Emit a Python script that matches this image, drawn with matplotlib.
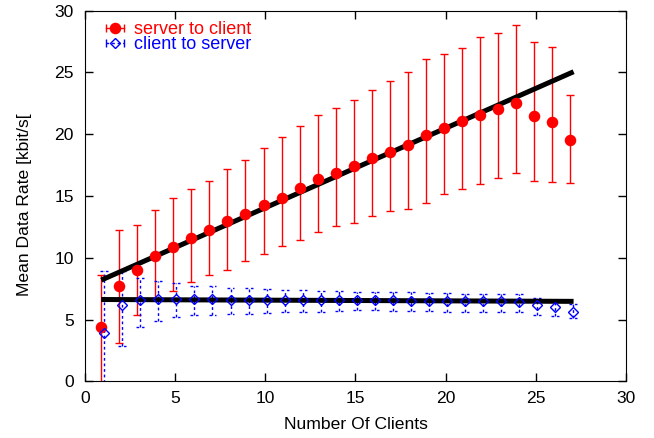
import matplotlib
matplotlib.use("Agg")
import matplotlib.pyplot as plt
import numpy as np
from matplotlib.lines import Line2D
from matplotlib.legend_handler import HandlerBase

# number of clients
clients = np.arange(1, 28)

# server to client: mean and error bar ends [kbit/s]
s2c = [4.4, 7.75, 9.05, 10.15, 10.9, 11.6, 12.25, 12.95, 13.55, 14.3, 14.8, 15.65, 16.35, 16.85,
       17.4, 18.1, 18.55, 19.1, 19.95, 20.5, 21.05, 21.55, 22.05, 22.5, 21.5, 21.0, 19.55]
s2c_hi = [8.65, 12.25, 12.65, 13.85, 14.85, 15.55, 16.25, 17.2, 17.95, 18.85, 19.75, 20.65, 21.55, 22.15,
          22.8, 23.6, 24.3, 25.0, 26.05, 26.5, 26.95, 27.85, 28.15, 28.8, 27.45, 27.05, 23.15]
s2c_lo = [-0.5, 3.1, 5.35, 6.75, 7.35, 8.05, 8.65, 9.05, 9.75, 10.35, 10.95, 11.45, 12.05, 12.55,
          12.85, 13.35, 13.75, 13.95, 14.45, 15.2, 15.55, 15.95, 16.45, 16.85, 16.25, 16.15, 16.05]

# client to server
c2s = [3.9, 6.15, 6.55, 6.65, 6.65, 6.65, 6.65, 6.6, 6.6, 6.6, 6.6, 6.6, 6.6, 6.6,
       6.55, 6.55, 6.55, 6.5, 6.5, 6.5, 6.5, 6.5, 6.5, 6.45, 6.2, 6.0, 5.65]
c2s_hi = [8.9, 8.9, 8.35, 8.1, 8.0, 7.7, 7.7, 7.6, 7.55, 7.45, 7.4, 7.4, 7.35, 7.3,
          7.25, 7.25, 7.2, 7.2, 7.15, 7.15, 7.1, 7.1, 7.1, 7.05, 6.75, 6.5, 6.25]
c2s_lo = [-0.5, 2.9, 4.4, 4.9, 5.25, 5.35, 5.4, 5.45, 5.45, 5.55, 5.6, 5.6, 5.65, 5.7,
          5.75, 5.75, 5.7, 5.7, 5.7, 5.65, 5.65, 5.65, 5.6, 5.6, 5.35, 5.3, 5.15]

# fitted lines (end points)
fit_x = [0.9, 27.1]
fit_s2c = [8.2, 25.05]
fit_c2s = [6.63, 6.48]

plt.rcParams['font.family'] = ['Liberation Sans', 'DejaVu Sans']
plt.rcParams['font.size'] = 12.6

class GpHandler(HandlerBase):
    # gnuplot style key: horizontal bar with end caps and the point in the middle
    def create_artists(self, legend, orig_handle, xdescent, ydescent, width, height, fontsize, trans):
        y = (height - ydescent) / 2
        x0, x1 = -xdescent, width - xdescent
        bar = Line2D([x0, x1], [y, y])
        bar.update_from(orig_handle)
        bar.set_marker('None')
        bar.set_transform(trans)
        caps = Line2D([x0, x1], [y, y], color=orig_handle.get_color(), ls='none',
                      marker='|', ms=6, mew=1, transform=trans)
        mk = Line2D([(x0 + x1) / 2], [y])
        mk.update_from(orig_handle)
        mk.set_linestyle('none')
        mk.set_transform(trans)
        return [bar, caps, mk]

fig = plt.figure(figsize=(6.54, 4.38), dpi=100)
ax = fig.add_axes([0.130, 0.129, 0.827, 0.847])

x_red = clients - 0.1
x_blue = clients + 0.07
s2c = np.array(s2c)
c2s = np.array(c2s)

ax.errorbar(x_red, s2c, yerr=[s2c - np.array(s2c_lo), np.array(s2c_hi) - s2c], fmt='none',
            ecolor='red', elinewidth=1, capsize=2.6, capthick=1, zorder=1.5)
eb = ax.errorbar(x_blue, c2s, yerr=[c2s - np.array(c2s_lo), np.array(c2s_hi) - c2s], fmt='none',
                 ecolor='blue', elinewidth=1, capsize=0, zorder=1.5)
eb[2][0].set_linestyle((0, (2, 2)))
ax.hlines(c2s_hi, x_blue - 0.22, x_blue + 0.22, colors='blue', lw=1, linestyles=(0, (2, 2)), zorder=1.5)
ax.hlines(c2s_lo, x_blue - 0.22, x_blue + 0.22, colors='blue', lw=1, linestyles=(0, (2, 2)), zorder=1.5)

ax.plot(fit_x, fit_s2c, color='black', lw=3.6, solid_capstyle='butt', zorder=2)
ax.plot(fit_x, fit_c2s, color='black', lw=3.6, solid_capstyle='butt', zorder=2)

ax.plot(x_red, s2c, ls='none', marker='o', ms=7.3, color='red', mec='red', zorder=3)
ax.plot(x_blue, c2s, ls='none', marker='D', ms=5.2, mfc='none', mec='blue', mew=1, zorder=3)

ax.set_xlim(0, 30)
ax.set_ylim(0, 30)
ax.set_xticks(np.arange(0, 31, 5))
ax.set_yticks(np.arange(0, 31, 5))
ax.tick_params(direction='in', length=6, width=1, top=True, right=True)
ax.tick_params(axis='y', pad=8)
ax.tick_params(axis='x', pad=7)
ax.set_xlabel("Number Of Clients", labelpad=8)
ax.set_ylabel("Mean Data Rate [kbit/s[")
ax.yaxis.set_label_coords(-0.098, 0.476)

h1 = Line2D([], [], color='red', marker='o', ms=7.3, lw=1)
h2 = Line2D([], [], color='blue', marker='D', ms=5.2, mfc='none', mew=1, lw=1, ls=(0, (2, 2)))
leg = ax.legend([h1, h2], ["server to client", "client to server"], loc='upper left',
                bbox_to_anchor=(0.038, 0.972), frameon=False, borderpad=0, borderaxespad=0,
                handlelength=1.0, handletextpad=0.55, labelspacing=-0.08, fontsize=13,
                handler_map={Line2D: GpHandler()})
leg.get_texts()[0].set_color('red')
leg.get_texts()[1].set_color('blue')

fig.savefig("out.png", dpi=100)
